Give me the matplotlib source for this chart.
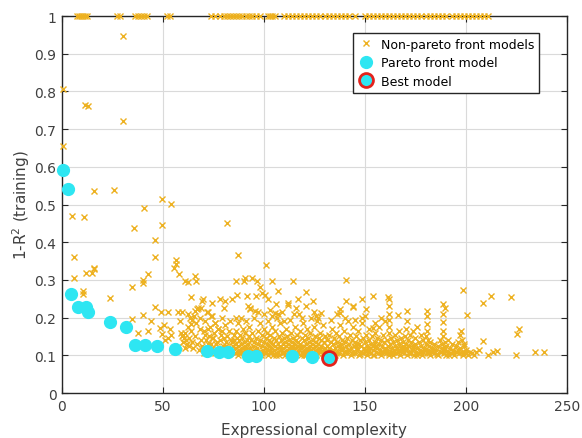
import matplotlib.pyplot as plt
import numpy as np

# ---- data ----
# non-pareto models that hit 1-R^2 = 1 (top row)
top_x = [7.5, 8.5, 9.5, 10.5, 11.5, 12.5, 27, 28.5, 36, 37.5, 39, 40.5, 42,
         52, 53.5, 74, 76, 78, 80, 81.5, 83, 84.5, 86, 87.5, 89, 91, 92.5,
         94, 96, 98, 102, 103, 104, 105.5, 110, 112, 114, 116, 118, 120, 122,
         124, 126, 128, 130, 132, 134, 136, 138, 140, 142, 145, 150, 152, 154,
         156, 158, 160, 162, 164, 166, 168, 170, 172, 174, 176, 178, 180, 182,
         184, 186, 188, 190, 193, 195, 197, 199, 201, 203, 205, 207, 209, 211]

# isolated non-pareto models
sparse = [
    (0.5, 0.806), (0.5, 0.655), (11.4, 0.764), (12.9, 0.762), (30, 0.948), (30, 0.722),
    (16, 0.535), (25.9, 0.539), (5.1, 0.47), (10.7, 0.468), (40.7, 0.492), (49.3, 0.516),
    (53.9, 0.502), (35.8, 0.437), (49.3, 0.445), (46, 0.406), (6, 0.36), (46, 0.362),
    (56.3, 0.352), (56.3, 0.342), (16, 0.333), (81.5, 0.451), (87.3, 0.367), (101, 0.34),
    (6.1, 0.306), (11.7, 0.318), (14.7, 0.318), (16, 0.328), (10.5, 0.271), (10.5, 0.264),
    (23.8, 0.251), (34.8, 0.281), (40.3, 0.3), (42.7, 0.315), (40.3, 0.293), (55.6, 0.333),
    (57.9, 0.315), (60.9, 0.297), (62.2, 0.295), (65.8, 0.311), (66.2, 0.297), (63.8, 0.256),
    (69.2, 0.244), (46, 0.229), (49, 0.215), (52.6, 0.215), (34.5, 0.197), (40.3, 0.206),
    (44, 0.191), (37.5, 0.16), (42.7, 0.164), (48.5, 0.173), (49.3, 0.156), (53.5, 0.169),
    (52.6, 0.147), (50.5, 0.18), (51, 0.14), (54, 0.155), (59.3, 0.215), (62.2, 0.209),
    (64.2, 0.195), (65.8, 0.218), (63.8, 0.182), (66.7, 0.222), (68.7, 0.226), (68.4, 0.2),
    (72.1, 0.215), (74.1, 0.204), (75.9, 0.187), (72.4, 0.169), (74.1, 0.147), (77.4, 0.169),
    (86, 0.297), (90.2, 0.297), (90.6, 0.306), (93.9, 0.306), (96.7, 0.297), (103.8, 0.297),
    (114.2, 0.297), (140.6, 0.3), (98, 0.28), (98.8, 0.266), (100.5, 0.259), (86.5, 0.259),
    (91.4, 0.257), (96, 0.257), (120.8, 0.268), (124.1, 0.244), (112, 0.233), (80.7, 0.244),
    (84, 0.249), (69.9, 0.249), (140.6, 0.244), (144.2, 0.231), (148.8, 0.249), (154.1, 0.257),
    (137.6, 0.222), (137.6, 0.213), (148.8, 0.2), (154.1, 0.173), (161.5, 0.256), (92.2, 0.231),
    (93.1, 0.222), (95.5, 0.218), (105.4, 0.213), (107.1, 0.209), (126, 0.204), (128.5, 0.213),
    (150.5, 0.224), (162, 0.249), (162, 0.231), (143.9, 0.229), (166.5, 0.206), (170.6, 0.218),
    (170.6, 0.191), (180.5, 0.218), (180.5, 0.204), (180.5, 0.182), (188.5, 0.237),
    (189.6, 0.226), (188.5, 0.209), (188.5, 0.188), (198.4, 0.273), (200.6, 0.206),
    (208.6, 0.24), (212.2, 0.257), (222.3, 0.255), (225.1, 0.156), (226.4, 0.169),
    (224.8, 0.1), (208.6, 0.138), (206.6, 0.114), (210.7, 0.1), (213.5, 0.108),
    (215.2, 0.111), (234.2, 0.108), (238.6, 0.108),
]

# dense band of non-pareto models, x 57..205
band_a = [
    (57.5, 0.215), (58.5, 0.19), (59, 0.16), (59.5, 0.15), (60, 0.155), (60.5, 0.145),
    (61, 0.16), (61.5, 0.14), (62, 0.13), (62.5, 0.175), (63, 0.125), (63.5, 0.2),
    (64, 0.165), (64.5, 0.135), (65, 0.12), (66, 0.15), (66.5, 0.185), (67, 0.13),
    (68, 0.115), (68.5, 0.17), (69, 0.14), (69.5, 0.125), (58, 0.125), (60, 0.135),
    (61, 0.12), (63, 0.145), (65.5, 0.205), (67.5, 0.225),
]
band_b = [
    (70, 0.12), (70.5, 0.165), (71, 0.19), (71.5, 0.14), (72, 0.215), (72.5, 0.13),
    (73, 0.15), (73.5, 0.175), (74, 0.205), (74.5, 0.12), (75, 0.145), (75.5, 0.16),
    (76, 0.187), (76.5, 0.13), (77, 0.115), (77.5, 0.17), (78, 0.14), (78.5, 0.155),
    (79, 0.2), (79.5, 0.125), (80, 0.11), (80.5, 0.18), (81, 0.135), (81.5, 0.15),
    (82, 0.12), (82.5, 0.165), (83, 0.19), (83.5, 0.14), (84, 0.115), (84.5, 0.125),
    (85, 0.155), (70.5, 0.105), (72, 0.11), (74, 0.13), (76, 0.105), (78, 0.12),
    (80, 0.145), (82, 0.105), (84, 0.135), (71, 0.155), (73, 0.12), (75, 0.11),
    (77, 0.135), (79, 0.165), (81, 0.125), (83, 0.11), (85, 0.14), (80, 0.225),
    (86, 0.2), (74.5, 0.24), (78, 0.25),
]
band_c = [
    (85.5, 0.105), (85.5, 0.12), (86, 0.13), (86, 0.165), (86.5, 0.11), (86.5, 0.145),
    (87, 0.1), (87, 0.125), (87, 0.185), (87.5, 0.14), (87.5, 0.115), (88, 0.155),
    (88, 0.105), (88.5, 0.13), (88.5, 0.2), (89, 0.12), (89, 0.145), (89.5, 0.11),
    (89.5, 0.17), (90, 0.135), (90, 0.105), (90.5, 0.16), (90.5, 0.125), (91, 0.115),
    (91, 0.19), (91.5, 0.14), (92, 0.105), (92, 0.13), (92.5, 0.15), (92.5, 0.175),
    (93, 0.12), (93, 0.11), (93.5, 0.14), (94, 0.105), (94, 0.16), (94.5, 0.125),
    (95, 0.135), (95, 0.2), (95.5, 0.115), (96, 0.145), (96, 0.105), (96.5, 0.12),
    (97, 0.165), (97, 0.13), (97.5, 0.11), (98, 0.14), (98, 0.185), (98.5, 0.1),
    (99, 0.125), (99, 0.155), (99.5, 0.115), (100, 0.135), (100, 0.17), (93, 0.225),
    (97, 0.215), (100, 0.21),
]
band_d = [
    (100.5, 0.105), (100.5, 0.12), (101, 0.145), (101, 0.11), (101.5, 0.13), (101.5, 0.16),
    (102, 0.1), (102, 0.115), (102, 0.19), (102.5, 0.125), (102.5, 0.14), (103, 0.105),
    (103, 0.155), (103.5, 0.12), (103.5, 0.135), (104, 0.11), (104, 0.175), (104.5, 0.1),
    (104.5, 0.13), (105, 0.145), (105, 0.115), (105.5, 0.125), (105.5, 0.165), (106, 0.105),
    (106, 0.14), (106.5, 0.12), (106.5, 0.2), (107, 0.11), (107, 0.13), (107.5, 0.15),
    (107.5, 0.1), (108, 0.125), (108, 0.185), (108.5, 0.115), (108.5, 0.14), (109, 0.105),
    (109, 0.16), (109.5, 0.13), (109.5, 0.12), (110, 0.11), (110, 0.145), (110.5, 0.1),
    (110.5, 0.135), (111, 0.125), (111, 0.17), (111.5, 0.115), (111.5, 0.15), (112, 0.105),
    (112, 0.13), (112.5, 0.14), (112.5, 0.12), (113, 0.11), (113, 0.195), (113.5, 0.125),
    (113.5, 0.16), (114, 0.135), (114, 0.105), (114.5, 0.115), (114.5, 0.145), (115, 0.1),
    (115, 0.13), (115.5, 0.12), (115.5, 0.175), (116, 0.11), (116, 0.14), (116.5, 0.155),
    (116.5, 0.125), (117, 0.105), (117, 0.135), (117.5, 0.115), (117.5, 0.21), (118, 0.13),
    (118, 0.165), (118.5, 0.1), (118.5, 0.12), (119, 0.145), (119, 0.11), (119.5, 0.125),
    (119.5, 0.185), (120, 0.105), (120, 0.14), (120.5, 0.115), (120.5, 0.155), (121, 0.13),
    (121, 0.1), (121.5, 0.12), (121.5, 0.17), (122, 0.11), (122, 0.145), (122.5, 0.135),
    (122.5, 0.105), (123, 0.125), (123, 0.16), (123.5, 0.115), (123.5, 0.2), (124, 0.13),
    (124, 0.105), (124.5, 0.14), (124.5, 0.12), (125, 0.11), (125, 0.175), (125.5, 0.125),
    (125.5, 0.15), (126, 0.1), (126, 0.135), (126.5, 0.115), (126.5, 0.19), (127, 0.13),
    (127, 0.105), (127.5, 0.145), (127.5, 0.12), (128, 0.11), (128, 0.16), (128.5, 0.125),
    (128.5, 0.14), (129, 0.105), (129, 0.18), (129.5, 0.115), (129.5, 0.135), (130, 0.12),
    (130, 0.15), (103, 0.22), (106, 0.235), (109, 0.215), (112, 0.24), (116, 0.225),
    (119, 0.2), (121, 0.23), (104, 0.205), (110, 0.19), (115, 0.21), (127, 0.2),
    (102, 0.25), (107, 0.27), (117, 0.25), (125, 0.215),
]
band_e = [
    (130.5, 0.105), (131, 0.125), (131, 0.14), (131.5, 0.11), (132, 0.155), (132, 0.12),
    (133, 0.105), (133, 0.135), (133.5, 0.17), (134, 0.115), (134, 0.13), (134.5, 0.145),
    (135, 0.1), (135, 0.12), (135.5, 0.16), (136, 0.11), (136, 0.135), (136.5, 0.125),
    (137, 0.105), (137, 0.15), (137.5, 0.18), (138, 0.115), (138, 0.13), (138.5, 0.14),
    (139, 0.1), (139, 0.12), (139.5, 0.165), (140, 0.11), (140, 0.135), (140.5, 0.125),
    (141, 0.105), (141, 0.145), (141.5, 0.19), (142, 0.115), (142, 0.13), (142.5, 0.155),
    (143, 0.1), (143, 0.12), (143.5, 0.14), (144, 0.11), (144, 0.175), (144.5, 0.125),
    (145, 0.105), (145, 0.135), (145.5, 0.15), (146, 0.115), (146, 0.12), (146.5, 0.165),
    (147, 0.1), (147, 0.13), (147.5, 0.14), (148, 0.11), (148, 0.125), (148.5, 0.185),
    (149, 0.105), (149, 0.145), (149.5, 0.12), (150, 0.115), (150, 0.135), (150.5, 0.155),
    (151, 0.1), (151, 0.125), (151.5, 0.11), (152, 0.14), (152, 0.17), (152.5, 0.12),
    (153, 0.105), (153, 0.13), (153.5, 0.15), (154, 0.115), (154, 0.125), (154.5, 0.1),
    (155, 0.135), (155, 0.16), (155.5, 0.11), (156, 0.12), (156, 0.145), (156.5, 0.105),
    (157, 0.13), (157, 0.175), (157.5, 0.115), (158, 0.14), (158, 0.1), (158.5, 0.125),
    (159, 0.11), (159, 0.155), (159.5, 0.135), (160, 0.12), (160, 0.19), (160.5, 0.105),
    (133, 0.195), (136, 0.21), (140, 0.2), (145, 0.195), (150, 0.205), (155, 0.185),
    (158, 0.2), (162, 0.195), (162, 0.21),
]
band_f = [
    (161, 0.115), (161, 0.14), (161.5, 0.125), (162, 0.105), (162, 0.16), (162, 0.175),
    (162.5, 0.13), (163, 0.11), (163, 0.145), (163.5, 0.12), (164, 0.1), (164, 0.135),
    (164.5, 0.115), (165, 0.125), (165, 0.155), (165.5, 0.105), (166, 0.14), (166, 0.12),
    (166.5, 0.11), (167, 0.13), (167, 0.165), (167.5, 0.1), (168, 0.12), (168, 0.145),
    (168.5, 0.11), (169, 0.135), (169, 0.125), (169.5, 0.105), (170, 0.115), (170, 0.15),
    (170.5, 0.17), (170.5, 0.13), (171, 0.1), (171, 0.12), (171.5, 0.14), (172, 0.11),
    (172, 0.125), (172.5, 0.155), (173, 0.105), (173, 0.135), (173.5, 0.115), (174, 0.12),
    (174, 0.165), (174.5, 0.1), (175, 0.13), (175, 0.145), (175.5, 0.11), (176, 0.175),
    (176, 0.12), (176.5, 0.105), (177, 0.135), (177.5, 0.115), (178, 0.125), (178, 0.155),
    (178.5, 0.1), (179, 0.14), (179, 0.11), (179.5, 0.12), (180, 0.13), (180, 0.15),
    (180.5, 0.165), (180.5, 0.105), (181, 0.14), (181, 0.115), (181.5, 0.125), (182, 0.1),
    (182, 0.135), (183, 0.11), (183, 0.12), (184, 0.105), (184, 0.13), (185, 0.115),
]
band_g = [
    (186, 0.1), (186, 0.125), (187, 0.11), (187, 0.14), (188, 0.12), (188, 0.13),
    (188.5, 0.15), (188.5, 0.165), (189, 0.105), (189, 0.115), (189.5, 0.135), (190, 0.125),
    (190, 0.1), (191, 0.11), (191, 0.14), (192, 0.12), (192.5, 0.105), (193, 0.13),
    (193.5, 0.115), (194, 0.1), (195, 0.125), (195, 0.11), (196, 0.135), (196.5, 0.105),
    (197, 0.12), (197, 0.155), (197.5, 0.165), (198, 0.11), (198, 0.14), (198.5, 0.1),
    (199, 0.125), (199, 0.13), (200, 0.105), (200, 0.115), (201, 0.1), (202, 0.11),
    (203, 0.105), (204, 0.1), (205, 0.108),
]
# extra points filling the solid floor of the band (y ~0.10-0.13)
band_h = [
    (88.2, 0.112), (90.8, 0.118), (93.7, 0.101), (95.2, 0.108), (99.2, 0.106), (101.3, 0.118),
    (103.2, 0.112), (105.8, 0.102), (107.8, 0.122), (109.7, 0.108), (111.8, 0.101),
    (113.7, 0.119), (115.8, 0.108), (117.7, 0.123), (119.8, 0.102), (121.8, 0.113),
    (123.8, 0.109), (125.7, 0.104), (127.8, 0.117), (129.8, 0.101), (131.7, 0.103),
    (133.8, 0.112), (135.7, 0.107), (137.8, 0.121), (139.7, 0.109), (141.8, 0.114),
    (143.7, 0.106), (145.8, 0.128), (147.7, 0.104), (149.8, 0.111), (151.7, 0.118),
    (153.8, 0.102), (155.7, 0.124), (157.8, 0.108), (159.7, 0.115), (161.8, 0.101),
    (163.7, 0.109), (165.8, 0.116), (167.7, 0.112), (169.8, 0.119), (171.7, 0.106),
    (173.8, 0.124), (175.7, 0.101), (177.8, 0.109), (179.7, 0.114), (181.8, 0.107),
    (183.7, 0.117), (185.8, 0.104), (187.7, 0.108), (189.8, 0.12), (191.7, 0.102),
    (193.8, 0.109), (196.2, 0.114), (198.8, 0.106),
]

# pareto front models
pareto_x = [0.5, 2.8, 4.5, 7.8, 11.9, 13, 23.9, 31.7, 36, 40.9, 46.9, 56.1,
            71.9, 77.7, 82.2, 91.9, 96, 114, 123.9]
pareto_y = [0.593, 0.54, 0.263, 0.227, 0.227, 0.216, 0.188, 0.174, 0.127, 0.127,
            0.124, 0.117, 0.112, 0.108, 0.108, 0.098, 0.098, 0.098, 0.096]

best_x = [132.3]
best_y = [0.094]

orange = '#EDB120'
cyan = '#2EE6F2'
dark = '#262626'

fig = plt.figure(figsize=(5.82, 4.39), dpi=100)
ax = fig.add_axes([0.1065, 0.1025, 0.8675, 0.8585])

other = np.array(sparse + band_a + band_b + band_c + band_d + band_e + band_f
                 + band_g + band_h)
np_x = np.concatenate([top_x, other[:, 0]])
np_y = np.concatenate([np.ones(len(top_x)), other[:, 1]])

ax.plot(np_x, np_y, 'x', color=orange, ms=5, mew=1.0, clip_on=False,
        label='Non-pareto front models', zorder=3)
ax.plot(pareto_x, pareto_y, 'o', color=cyan, mfc=cyan, mec=cyan, ms=8.5,
        clip_on=False, label='Pareto front model', zorder=4)
ax.plot(best_x, best_y, 'o', mfc=cyan, mec='#E3221C', mew=2.0, ms=10,
        label='Best model', zorder=5)

ax.set_xlim(0, 250)
ax.set_ylim(0, 1)
ax.set_xticks(np.arange(0, 251, 50))
ax.set_yticks(np.arange(0, 1.01, 0.1))
ax.set_yticklabels(['0', '0.1', '0.2', '0.3', '0.4', '0.5', '0.6', '0.7', '0.8', '0.9', '1'])

ax.grid(True, color='#DADADA', linewidth=0.8)
ax.set_axisbelow(True)
for s in ax.spines.values():
    s.set_color(dark)
    s.set_linewidth(1.0)
ax.tick_params(direction='in', length=4, width=0.8, top=True, right=True,
               labelsize=10, colors=dark, labelcolor='#404040', pad=4)

ax.set_xlabel('Expressional complexity', fontsize=11, color='#404040', labelpad=7)
ax.set_ylabel('1-R$^2$ (training)', fontsize=11, color='#404040', labelpad=2)

leg = ax.legend(loc='upper right', bbox_to_anchor=(0.957, 0.973), fontsize=9,
                fancybox=False, framealpha=1, edgecolor=dark, labelspacing=0.45,
                handletextpad=0.6, borderpad=0.4, handlelength=1.2)
leg.get_frame().set_linewidth(1.0)

fig.savefig('out.png', dpi=100)
